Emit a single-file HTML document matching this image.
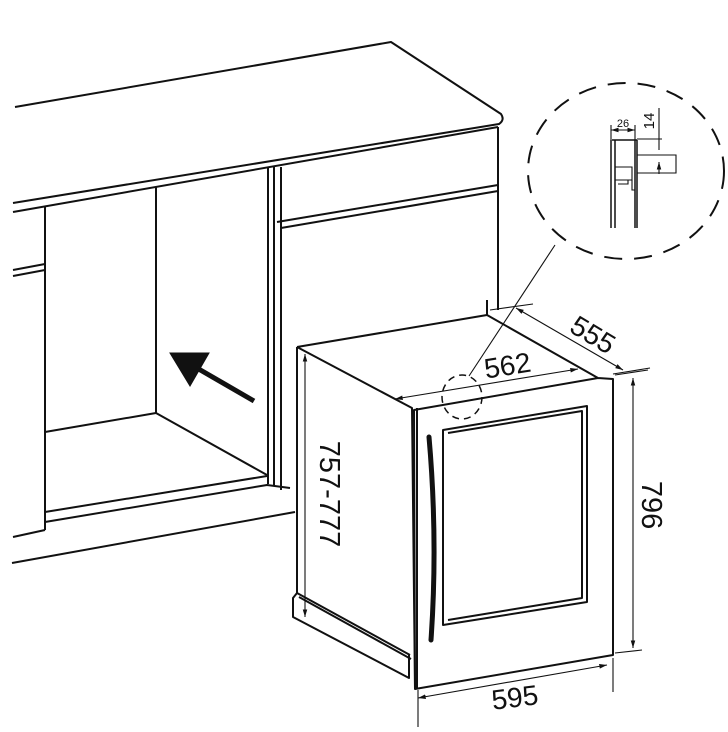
<!DOCTYPE html>
<html><head><meta charset="utf-8"><style>
html,body{margin:0;padding:0;background:#fff;}
svg{display:block}
text{font-family:"Liberation Sans","DejaVu Sans",sans-serif;fill:#111}
</style></head><body>
<svg width="728" height="732" viewBox="0 0 728 732" xmlns="http://www.w3.org/2000/svg">
<defs>
<marker id="a" viewBox="0 0 10 10" refX="10" refY="5" markerWidth="7" markerHeight="7" orient="auto-start-reverse"><path d="M0,2 L10,5 L0,8 z" fill="#111"/></marker>
</defs>
<g fill="none" stroke="#111" stroke-width="2" stroke-linejoin="round">
<path d="M15,107 L391,42 L501,114 Q505,120 499,124 L13,203"/>
<path d="M498,127 L13,212"/>
<path d="M498,127 L498,310"/>
<path d="M45,207 L45,530"/>
<path d="M13,270 L45,264 M13,276 L45,270"/>
<path d="M13,537 L45,530"/>
<path d="M156,187 L156,413"/>
<path d="M45,432 L156,413 L267,475"/>
<path d="M45,512 L267,476 M45,522 L267,485 L290,488"/>
<path d="M12,563 L295,512"/>
<path d="M268,168 L268,484 M274,167 L274,486 M281,167 L281,490"/>
<path d="M277,222 L498,185 M281,228 L498,191"/>
<path d="M297,347 L487,315 L598,378 L613,379 L613,655 L415,689 L414,410 L598,378"/>
<path d="M297,347 L412,408 L415,689"/>
<path d="M297,347 L297,593 L410,655"/>
<path d="M297,593 L293,598 L293,617 L409,678 L409,655"/>
<path d="M299,597 L411,659"/>
<path d="M417,408 L417,689"/>
<path d="M443,430 L587,406 L587,602 L443,625 Z"/>
<path d="M448,433 L582,411 L582,598 L448,620"/>
<path d="M429,437 Q438,540 431,640" stroke-width="5" stroke-linecap="round"/>
<path d="M487,315 L487,300"/>
</g>
<g stroke="#111" fill="#111">
<path d="M254,401 L190,364" stroke-width="5"/>
<path d="M170,353 L209,353 L190,386 Z" stroke-width="1"/>
</g>
<g fill="none" stroke="#111" stroke-width="1.1">
<path d="M305,354 L305,617" marker-start="url(#a)" marker-end="url(#a)"/>
<path d="M633,378 L633,648" marker-start="url(#a)" marker-end="url(#a)"/>
<path d="M615,375 L648,370 M615,653 L642,650"/>
<path d="M418,698 L607,665" marker-start="url(#a)" marker-end="url(#a)"/>
<path d="M418,690 L418,727 M613,658 L613,692"/>
<path d="M395,399 L578,369" marker-start="url(#a)" marker-end="url(#a)"/>
<path d="M516,308 L623,370" marker-start="url(#a)" marker-end="url(#a)"/>
<path d="M490,310 L533,304 M613,374 L650,368"/>
<path d="M469,376 L555,245"/>
<ellipse cx="462" cy="397" rx="20" ry="22" stroke-dasharray="7,5" stroke-width="1.5"/>
<ellipse cx="626" cy="171" rx="98" ry="88" stroke-dasharray="18,12" stroke-width="2"/>
<path d="M611,140 L611,228 M615,140 L615,228 M635,140 L635,228 M637,140 L637,228" stroke-width="1.5"/>
<path d="M612,140 L637,140" stroke-width="1.5"/>
<path d="M637,155 L676,155 L676,173 L637,173"/>
<path d="M615,167 L632,167 L632,180 L615,180"/>
<path d="M618,180 L628,180 L628,184 L618,184 M632,180 L632,190 L635,190"/>
<path d="M611,130 L635,130" marker-start="url(#a)" marker-end="url(#a)"/>
<path d="M611,125 L611,140 M635,125 L635,140"/>
<path d="M659,108 L659,150 M659,174 L659,162" marker-end="url(#a)"/>
<path d="M637,139 L662,139"/>
</g>
<text x="623" y="127" font-size="11" text-anchor="middle">26</text>
<text transform="translate(654,121) rotate(-90)" font-size="15" text-anchor="middle">14</text>
<text transform="translate(509,375) rotate(-9)" font-size="28" text-anchor="middle">562</text>
<text transform="translate(588,343) rotate(31)" font-size="28" text-anchor="middle">555</text>
<text transform="translate(516,707) rotate(-7)" font-size="28" text-anchor="middle">595</text>
<text transform="translate(320,494) rotate(90)" font-size="29" text-anchor="middle">757-777</text>
<text transform="translate(642,505) rotate(90)" font-size="29" text-anchor="middle">796</text>
</svg>
</body></html>
